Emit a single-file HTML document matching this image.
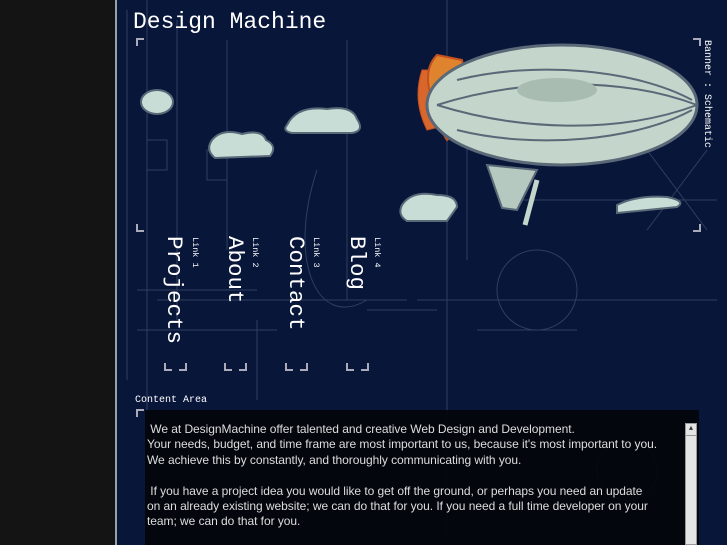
<!DOCTYPE html>
<html><head><meta charset="utf-8"><style>
*{margin:0;padding:0;box-sizing:border-box}
body{width:727px;height:545px;overflow:hidden;background:#141414;position:relative;font-family:"Liberation Mono","DejaVu Sans Mono",monospace}
#main{position:absolute;left:115px;top:0;width:612px;height:545px;background:#08163a;border-left:2px solid #9a9fa8;overflow:hidden}
.t{position:absolute;color:#fff}
.v{position:absolute;writing-mode:vertical-rl;color:#fff;white-space:nowrap}
.br{position:absolute;width:8px;height:8px;border-color:#aab;border-style:solid}
#content{position:absolute;left:28px;top:410px;width:554px;height:140px;background:rgba(3,5,10,0.93)}
#content p{font-family:"Liberation Sans",Arial,sans-serif;font-size:12px;letter-spacing:-0.05px;line-height:15.4px;color:#ddd;padding:12px 0 0 2px;white-space:nowrap}
#sb{position:absolute;left:568px;top:423px;width:12px;height:122px;background:#e4e4e4;border:1px solid #999}
</style></head><body>
<div id="main">
<svg width="612" height="545" style="position:absolute;left:0;top:0">
<g stroke="#3a4a6a" stroke-width="1" fill="none" opacity="0.8">
<path d="M10 10V380M30 0V540M60 20V320M110 40V250M230 40V300M330 0V540M350 120V260M140 320V400M40 300H290M400 200H600M20 290H140M300 300H600"/>
<path d="M30 140h20v30h-20zM90 150h20v30h-20z"/>
<path d="M200 170 C170 260 200 330 250 300"/>
<path d="M530 150 l60 80 M530 230 l60 -80"/>
<circle cx="420" cy="290" r="40"/><circle cx="510" cy="470" r="30"/>
<path d="M360 330H460M250 310H320M20 330H160"/>
</g>
<g fill="#c8ddd6" stroke="#5a6878" stroke-width="2">
<ellipse cx="40" cy="102" rx="16" ry="12"/>
<path d="M95 140 q10 -12 30 -6 q20 -5 24 6 q12 6 4 16 l-55 2 q-10 -8 -3 -18z"/>
<path d="M170 125 q10 -20 40 -16 q25 -4 30 10 q8 12 -5 14 l-60 0 q-10 -2 -5 -8z"/>
<path d="M285 205 q10 -15 35 -10 q20 0 20 12 l-10 14 l-40 0 q-10 -6 -5 -16z"/>
<path d="M500 205 q20 -10 50 -8 q20 4 10 10 l-60 6z"/>
<ellipse cx="482" cy="112" rx="8" ry="8"/>
</g>
<g>
<path d="M305 70 q-10 30 5 60 l20 -5 q-10 -25 0 -55z" fill="#d9662a" stroke="#c45020"/>
<path d="M320 55 q-15 15 -5 45 q5 25 15 40 l25 -20 l-10 -60z" fill="#e0832f" stroke="#c45020" stroke-width="2"/>
<ellipse cx="445" cy="105" rx="135" ry="60" fill="#c4d6cb" stroke="#5a6878" stroke-width="3"/>
<path d="M320 105 C400 80 500 75 580 105 M320 105 C400 130 500 135 580 105 M340 80 C420 60 520 70 575 100 M340 130 C420 150 520 140 575 110" stroke="#5a6878" stroke-width="2" fill="none"/>
<ellipse cx="440" cy="90" rx="40" ry="12" fill="#a8bcb2"/>
<path d="M370 165 l50 5 l-20 40 l-15 -2 z" fill="#b5c9c0" stroke="#5a6878" stroke-width="2"/>
<path d="M420 180 l-12 45" stroke="#c4d6cb" stroke-width="5"/>
</g>
</svg>
<div class="t" style="left:16px;top:9px;font-size:23px">Design Machine</div>
<div class="br" style="left:19px;top:38px;border-width:2px 0 0 2px"></div>
<div class="br" style="left:19px;top:224px;border-width:0 0 2px 2px"></div>
<div class="br" style="left:576px;top:38px;border-width:2px 2px 0 0"></div>
<div class="br" style="left:576px;top:224px;border-width:0 2px 2px 0"></div>
<div class="v" style="left:584px;top:40px;font-size:10px">Banner : Schematic</div>
<div class="v" style="left:46px;top:236px;font-size:22.5px;line-height:22px">Projects</div>
<div class="v" style="left:73px;top:237px;font-size:8.5px">Link 1</div>
<div class="v" style="left:107px;top:236px;font-size:22.5px;line-height:22px">About</div>
<div class="v" style="left:133px;top:237px;font-size:8.5px">Link 2</div>
<div class="v" style="left:168px;top:236px;font-size:22.5px;line-height:22px">Contact</div>
<div class="v" style="left:194px;top:237px;font-size:8.5px">Link 3</div>
<div class="v" style="left:229px;top:236px;font-size:22.5px;line-height:22px">Blog</div>
<div class="v" style="left:255px;top:237px;font-size:8.5px">Link 4</div>
<div class="br" style="left:47px;top:363px;border-width:0 0 2px 2px"></div>
<div class="br" style="left:62px;top:363px;border-width:0 2px 2px 0"></div>
<div class="br" style="left:107px;top:363px;border-width:0 0 2px 2px"></div>
<div class="br" style="left:122px;top:363px;border-width:0 2px 2px 0"></div>
<div class="br" style="left:168px;top:363px;border-width:0 0 2px 2px"></div>
<div class="br" style="left:183px;top:363px;border-width:0 2px 2px 0"></div>
<div class="br" style="left:229px;top:363px;border-width:0 0 2px 2px"></div>
<div class="br" style="left:244px;top:363px;border-width:0 2px 2px 0"></div>
<div class="t" style="left:18px;top:395px;font-size:10px">Content Area</div>
<div class="br" style="left:19px;top:409px;border-width:2px 0 0 2px"></div>
<div id="content"><p>&nbsp;We at DesignMachine offer talented and creative Web Design and Development.<br>Your needs, budget, and time frame are most important to us, because it's most important to you.<br>We achieve this by constantly, and thoroughly communicating with you.<br><br>&nbsp;If you have a project idea you would like to get off the ground, or perhaps you need an update<br>on an already existing website; we can do that for you. If you need a full time developer on your<br>team; we can do that for you.</p></div>
<div id="sb"><div style="height:12px;border-bottom:1px solid #999;font-size:7px;text-align:center;color:#333;line-height:11px">▲</div></div>
</div>
</body></html>
